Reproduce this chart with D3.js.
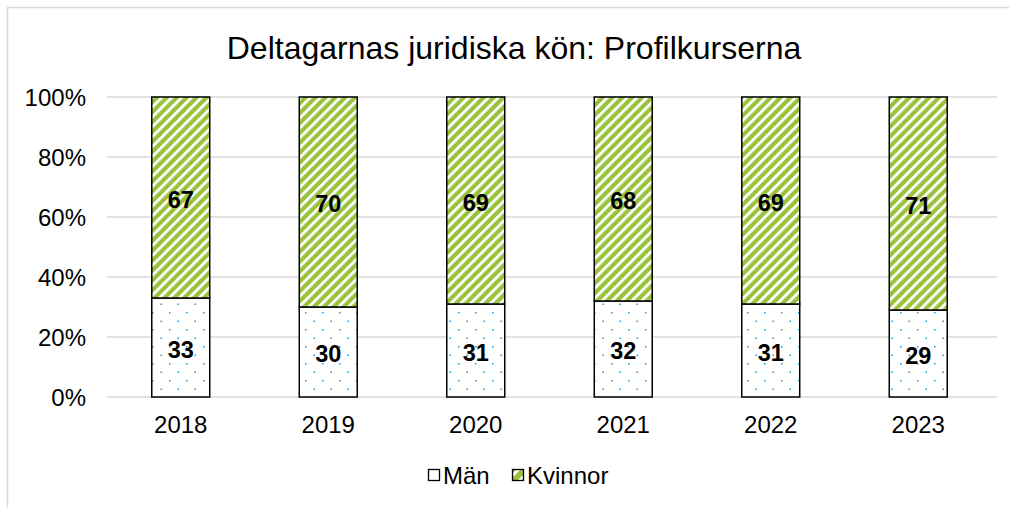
<!DOCTYPE html>
<html><head><meta charset="utf-8">
<script src="https://cdn.jsdelivr.net/npm/d3@7"></script>
<style>body{margin:0;background:#fff;}svg{display:block;font-family:"Liberation Sans",Arial,sans-serif;}</style>
</head><body>
<script>
const years = ["2018","2019","2020","2021","2022","2023"];
const man = [33,30,31,32,31,29];
const kvinnor = [67,70,69,68,69,71];
const yTicks = [0,20,40,60,80,100];
const seriesNames = ["Män","Kvinnor"];
const title = "Deltagarnas juridiska kön: Profilkurserna";

const W=1009,H=508;
const svg=d3.select("body").append("svg").attr("width",W).attr("height",H);
const defs=svg.append("defs");
const stripe=defs.append("pattern").attr("id","stripe").attr("patternUnits","userSpaceOnUse")
  .attr("width",7).attr("height",7).attr("patternTransform","rotate(45)");
stripe.append("rect").attr("width",7).attr("height",7).attr("fill","#9bc23c");
stripe.append("rect").attr("x",0).attr("width",2.8).attr("height",7).attr("fill","#fff");
const dots=defs.append("pattern").attr("id","dots").attr("patternUnits","userSpaceOnUse")
  .attr("width",17).attr("height",17).attr("x",152).attr("y",6);
dots.append("rect").attr("width",17).attr("height",17).attr("fill","#fff");
dots.append("rect").attr("x",0).attr("y",0).attr("width",1.5).attr("height",1.5).attr("fill","#1a9ad6");
dots.append("rect").attr("x",8.5).attr("y",8.5).attr("width",1.5).attr("height",1.5).attr("fill","#1a9ad6");

// chart border
svg.append("rect").attr("x",7.5).attr("y",7.5).attr("width",W+10).attr("height",H+10)
  .attr("fill","none").attr("stroke","#d9d9d9").attr("stroke-width",1.5);

const x=d3.scaleBand().domain(years).range([107,992]).paddingInner(0.607).paddingOuter(0.3035);
const y=d3.scaleLinear().domain([0,100]).range([397,97]);

svg.append("text").attr("x",514).attr("y",59).attr("text-anchor","middle")
  .attr("font-size",32).attr("fill","#000").text(title);

// gridlines
svg.append("g").selectAll("line").data(yTicks).join("line")
  .attr("x1",107).attr("x2",997).attr("y1",d=>y(d)).attr("y2",d=>y(d))
  .attr("stroke","#d9d9d9").attr("stroke-width",1.5);

const FF="Liberation Sans, Arial, sans-serif";
// y axis labels
const ya=svg.append("g").attr("transform","translate(86,0)")
  .call(d3.axisLeft(y).tickValues(yTicks).tickFormat(d=>d+"%").tickSize(0).tickPadding(0));
ya.select(".domain").remove();
ya.selectAll("text").attr("font-size",24).attr("font-family",FF).attr("fill","#000")
  .attr("dy","0.36em");

// x axis labels
const xa=svg.append("g").attr("transform","translate(0,397)")
  .call(d3.axisBottom(x).tickSize(0).tickPadding(19));
xa.select(".domain").remove();
xa.selectAll("text").attr("font-size",24).attr("font-family",FF).attr("fill","#000");

const data=years.map((yr,i)=>({yr,m:man[i],k:kvinnor[i]}));
const g=svg.append("g");
g.selectAll(".m").data(data).join("rect")
  .attr("x",d=>x(d.yr)).attr("width",x.bandwidth())
  .attr("y",d=>y(d.m)).attr("height",d=>y(0)-y(d.m))
  .attr("fill","url(#dots)").attr("stroke","#000").attr("stroke-width",1.5);
g.selectAll(".k").data(data).join("rect")
  .attr("x",d=>x(d.yr)).attr("width",x.bandwidth())
  .attr("y",d=>y(d.m+d.k)).attr("height",d=>y(d.m)-y(d.m+d.k))
  .attr("fill","url(#stripe)").attr("stroke","#000").attr("stroke-width",1.5);

g.selectAll(".lm").data(data).join("text")
  .attr("x",d=>x(d.yr)+x.bandwidth()/2).attr("y",d=>y(d.m/2)+10)
  .attr("text-anchor","middle").attr("font-size",23.5).attr("font-weight","bold")
  .text(d=>d.m);
g.selectAll(".lk").data(data).join("text")
  .attr("x",d=>x(d.yr)+x.bandwidth()/2).attr("y",d=>y(d.m+d.k/2)+10)
  .attr("text-anchor","middle").attr("font-size",23.5).attr("font-weight","bold")
  .text(d=>d.k);

// legend
const leg=svg.append("g").attr("transform","translate(0,475)");
const lx=[428,512];
const fills=["#fff","url(#legstripe)"];
const ls=defs.append("pattern").attr("id","legstripe").attr("patternUnits","userSpaceOnUse")
  .attr("width",12).attr("height",12).attr("x",512).attr("y",469);
ls.append("rect").attr("width",12).attr("height",12).attr("fill","#9bc23c");
ls.append("path").attr("d","M0,12 L12,0").attr("stroke","#fff").attr("stroke-width",3);
seriesNames.forEach((n,i)=>{
  leg.append("rect").attr("x",lx[i]+0.5).attr("y",-5.5).attr("width",11).attr("height",11)
    .attr("fill",fills[i]).attr("stroke","#000").attr("stroke-width",1.3);
  leg.append("text").attr("x",lx[i]+15).attr("y",9).attr("font-size",24).text(n);
});
</script>
</body></html>
